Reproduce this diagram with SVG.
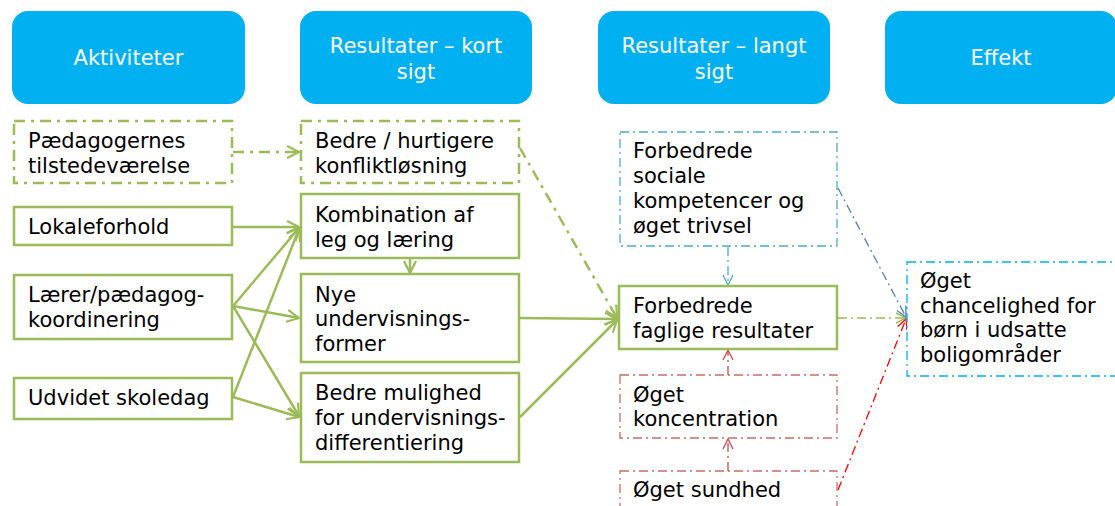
<svg xmlns="http://www.w3.org/2000/svg" width="1115" height="506" viewBox="0 0 1115 506">
<defs>
<style>
.hdr{fill:#00b0f0}
.ht{fill:#fff;font-family:"DejaVu Sans",Verdana,sans-serif;font-size:21px;text-anchor:middle}
.t{fill:#000;font-family:"DejaVu Sans",Verdana,sans-serif;font-size:21px}
.gs{fill:#fff;stroke:#9bbb59;stroke-width:2.5}
.gd{fill:#fff;stroke:#9bbb59;stroke-width:2.5;stroke-dasharray:11 6 3 6}
.bd{fill:#fff;stroke:#4bacc6;stroke-width:1.3;stroke-dasharray:9 4 2 4}
.rd{fill:#fff;stroke:#c0504d;stroke-width:1.3;stroke-dasharray:9 4 2 4;stroke-opacity:0.85}
.cd{fill:#fff;stroke:#00b0f0;stroke-width:1.3;stroke-dasharray:9 4 2 4}
.cg{fill:none;stroke:#9bbb59;stroke-width:2.5}
.cgd{fill:none;stroke:#9bbb59;stroke-width:2.5;stroke-dasharray:11 6 3 6}
.cgt{fill:none;stroke:#9bbb59;stroke-width:1.3;stroke-dasharray:9 4 2 4}
.cb{fill:none;stroke:#4bacc6;stroke-width:1.3;stroke-dasharray:9 4 2 4}
.cbb{fill:none;stroke:#4f81bd;stroke-width:1.3;stroke-dasharray:9 4 2 4}
.cr{fill:none;stroke:#c0504d;stroke-width:1.3;stroke-dasharray:9 4 2 4}
.crr{fill:none;stroke:#ff0000;stroke-width:1.3;stroke-dasharray:9 4 2 4}
</style>
<marker id="ag" viewBox="0 0 14 14" refX="13" refY="7" markerWidth="14" markerHeight="14" markerUnits="userSpaceOnUse" orient="auto"><path d="M1,1 L13,7 L1,13" fill="none" stroke="#9bbb59" stroke-width="2.2"/></marker>
<marker id="agt" viewBox="0 0 12 12" refX="11" refY="6" markerWidth="12" markerHeight="12" markerUnits="userSpaceOnUse" orient="auto"><path d="M1,1 L11,6 L1,11" fill="none" stroke="#9bbb59" stroke-width="1.5"/></marker>
<marker id="ab" viewBox="0 0 12 12" refX="11" refY="6" markerWidth="12" markerHeight="12" markerUnits="userSpaceOnUse" orient="auto"><path d="M1,1 L11,6 L1,11" fill="none" stroke="#4bacc6" stroke-width="1.3"/></marker>
<marker id="abb" viewBox="0 0 12 12" refX="11" refY="6" markerWidth="12" markerHeight="12" markerUnits="userSpaceOnUse" orient="auto"><path d="M1,1 L11,6 L1,11" fill="none" stroke="#4f81bd" stroke-width="1.3"/></marker>
<marker id="ar" viewBox="0 0 12 12" refX="11" refY="6" markerWidth="12" markerHeight="12" markerUnits="userSpaceOnUse" orient="auto"><path d="M1,1 L11,6 L1,11" fill="none" stroke="#c0504d" stroke-width="1.3"/></marker>
<marker id="arr" viewBox="0 0 12 12" refX="11" refY="6" markerWidth="12" markerHeight="12" markerUnits="userSpaceOnUse" orient="auto"><path d="M1,1 L11,6 L1,11" fill="none" stroke="#ff0000" stroke-width="1.3"/></marker>
</defs>
<rect width="1115" height="506" fill="#fff"/>

<g id="h1"><rect class="hdr" x="12" y="11" width="233" height="93" rx="16"/><text class="ht" x="128.5" y="65">Aktiviteter</text></g>
<g id="h2"><rect class="hdr" x="300" y="11" width="232" height="93" rx="16"/><text class="ht" x="416" y="53">Resultater – kort</text><text class="ht" x="416" y="79">sigt</text></g>
<g id="h3"><rect class="hdr" x="598" y="11" width="232" height="93" rx="16"/><text class="ht" x="714" y="53">Resultater – langt</text><text class="ht" x="714" y="79">sigt</text></g>
<g id="h4"><rect class="hdr" x="885" y="11" width="232" height="93" rx="16"/><text class="ht" x="1001" y="65">Effekt</text></g>

<g id="connectors">
<line class="cgd" x1="233" y1="152" x2="299" y2="152" marker-end="url(#ag)"/>
<line class="cg" x1="233" y1="227" x2="299" y2="227" marker-end="url(#ag)"/>
<line class="cg" x1="233" y1="306" x2="299" y2="228" marker-end="url(#ag)"/>
<line class="cg" x1="233" y1="306" x2="299" y2="318" marker-end="url(#ag)"/>
<line class="cg" x1="233" y1="306" x2="299" y2="416" marker-end="url(#ag)"/>
<line class="cg" x1="233" y1="397" x2="299" y2="229" marker-end="url(#ag)"/>
<line class="cg" x1="233" y1="397" x2="299" y2="417" marker-end="url(#ag)"/>
<line class="cg" x1="410" y1="259" x2="410" y2="273" marker-end="url(#ag)"/>
<line class="cgd" x1="520" y1="148" x2="617" y2="318" marker-end="url(#ag)"/>
<line class="cg" x1="520" y1="318" x2="617" y2="319" marker-end="url(#ag)"/>
<line class="cg" x1="520" y1="417" x2="617" y2="320" marker-end="url(#ag)"/>
<line class="cb" x1="728" y1="247" x2="728" y2="285" marker-end="url(#ab)"/>
<line class="cr" x1="728" y1="375" x2="728" y2="350" marker-end="url(#ar)"/>
<line class="cr" x1="728" y1="471" x2="728" y2="439" marker-end="url(#ar)"/>
<line class="cgt" x1="838" y1="318" x2="906" y2="318" marker-end="url(#agt)"/>
<line class="cbb" x1="838" y1="188" x2="906" y2="317" marker-end="url(#abb)"/>
<line class="crr" x1="838" y1="490" x2="906" y2="319" marker-end="url(#arr)"/>
</g>

<g id="n_paed"><rect class="gd" x="14" y="121" width="218" height="62"/><text class="t" x="28" y="148">Pædagogernes</text><text class="t" x="28" y="173">tilstedeværelse</text></g>
<g id="n_lokale"><rect class="gs" x="14" y="207" width="218" height="38"/><text class="t" x="28" y="234">Lokaleforhold</text></g>
<g id="n_laerer"><rect class="gs" x="14" y="275" width="218" height="64"/><text class="t" x="28" y="302">Lærer/pædagog-</text><text class="t" x="28" y="327">koordinering</text></g>
<g id="n_udvidet"><rect class="gs" x="14" y="378" width="218" height="41"/><text class="t" x="28" y="405">Udvidet skoledag</text></g>

<g id="n_konflikt"><rect class="gd" x="301" y="121" width="218" height="62"/><text class="t" x="315" y="148">Bedre / hurtigere</text><text class="t" x="315" y="173">konfliktløsning</text></g>
<g id="n_komb"><rect class="gs" x="301" y="194" width="218" height="64"/><text class="t" x="315" y="222">Kombination af</text><text class="t" x="315" y="247">leg og læring</text></g>
<g id="n_nye"><rect class="gs" x="301" y="274" width="218" height="88"/><text class="t" x="315" y="302">Nye</text><text class="t" x="315" y="326">undervisnings-</text><text class="t" x="315" y="351">former</text></g>
<g id="n_mulighed"><rect class="gs" x="301" y="373" width="218" height="89"/><text class="t" x="315" y="400">Bedre mulighed</text><text class="t" x="315" y="425">for undervisnings-</text><text class="t" x="315" y="450">differentiering</text></g>

<g id="n_sociale"><rect class="bd" x="620" y="132" width="217" height="114"/><text class="t" x="633" y="158">Forbedrede</text><text class="t" x="633" y="183">sociale</text><text class="t" x="633" y="208">kompetencer og</text><text class="t" x="633" y="233">øget trivsel</text></g>
<g id="n_faglige"><rect class="gs" x="619" y="286" width="218" height="63"/><text class="t" x="633" y="313">Forbedrede</text><text class="t" x="633" y="338">faglige resultater</text></g>
<g id="n_konc"><rect class="rd" x="620" y="375" width="217" height="63"/><text class="t" x="633" y="402">Øget</text><text class="t" x="633" y="426">koncentration</text></g>
<g id="n_sundhed"><rect class="rd" x="620" y="471" width="217" height="60"/><text class="t" x="633" y="497">Øget sundhed</text></g>

<g id="n_chance"><rect class="cd" x="907" y="262" width="220" height="114"/><text class="t" x="920" y="288">Øget</text><text class="t" x="920" y="313">chancelighed for</text><text class="t" x="920" y="337">børn i udsatte</text><text class="t" x="920" y="362">boligområder</text></g>
</svg>
